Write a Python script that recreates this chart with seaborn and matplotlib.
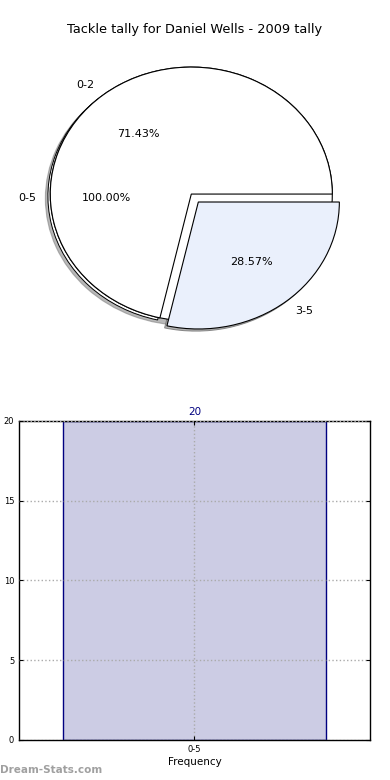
import matplotlib
matplotlib.use("Agg")
import matplotlib.pyplot as plt
import matplotlib.patches as mpatches
import seaborn as sns
import pandas as pd

# ---- data ----
title = "Tackle tally for Daniel Wells - 2009 tally"
pie_total_labels = ["0-5"]
pie_total_values = [20]
pie_split_labels = ["0-2", "3-5"]
pie_split_values = [5, 2]
bar_categories = ["0-5"]
bar_values = [20]
y_ticks = [0, 5, 10, 15, 20]

plt.rcParams['font.family'] = ['DejaVu Sans']

fig = plt.figure(figsize=(3.9, 7.8), dpi=100)

# ---- pie ----
ax1 = fig.add_axes([0.0385, 0.5477, 0.904, 0.407])
_, t1, a1 = ax1.pie(pie_total_values, labels=pie_total_labels, autopct='%1.2f%%',
                    colors=['white'], startangle=0,
                    shadow=dict(ox=-0.025, oy=-0.025, shade=0.55),
                    wedgeprops=dict(edgecolor='black', linewidth=0.8),
                    textprops=dict(fontsize=8))
for t in list(t1) + list(a1):
    x, y = t.get_position()
    t.set_position((x, y - 0.03))
ax1.pie(pie_split_values, labels=pie_split_labels, autopct='%1.2f%%',
        colors=['white', '#eaf0fc'], explode=[0, 0.08], startangle=0,
        shadow=dict(ox=-0.012, oy=-0.012, facecolor='white', edgecolor='black',
                    linewidth=0.7, alpha=1.0),
        wedgeprops=dict(edgecolor='black', linewidth=0.8),
        textprops=dict(fontsize=8))
shadows = [p for p in ax1.patches if isinstance(p, mpatches.Shadow)]
last = shadows[-1]
last.set_facecolor('#a0a0a0')
last.set_edgecolor('#707070')
last.set_alpha(0.8)
ax1.set_aspect('auto')
ax1.set_xlim(-1.25, 1.25)
ax1.set_ylim(-1.25, 1.25)
fig.text(0.5, 1 - 30 / 780, title, ha='center', va='center', fontsize=9.3)

# ---- bar ----
ax2 = fig.add_axes([0.0487, 0.0513, 0.9, 0.409])
df = pd.DataFrame({"range": bar_categories, "freq": bar_values})
sns.barplot(data=df, x="range", y="freq", ax=ax2, color='#cccce4',
            edgecolor='#000080', linewidth=1.0, width=0.75, saturation=1)
ax2.set_xlim(-0.5, 0.5)
ax2.set_ylim(0, 20)
ax2.set_yticks(y_ticks)
ax2.set_axisbelow(False)
ax2.grid(True, linestyle=':', color='#aaaaaa', linewidth=1.0)
ax2.tick_params(axis='both', labelsize=6, direction='in', length=3, right=True, top=True)
ax2.set_xlabel("Frequency", fontsize=7.5, labelpad=2)
ax2.set_ylabel("Stat Mean Tally", fontsize=7.5)
ax2.yaxis.set_label_coords(-0.075, 0.5)
for s in ax2.spines.values():
    s.set_color('black')
    s.set_linewidth(1.0)
for c in ax2.containers:
    ax2.bar_label(c, labels=[str(v) for v in bar_values], color='#000080',
                  fontsize=7.5, padding=3)

fig.text(0.0, 1 - 770 / 780, "Dream-Stats.com", ha='left', va='center',
         fontsize=7.5, fontweight='bold', color='#a0a0a0')

fig.savefig("out.png", dpi=100)
